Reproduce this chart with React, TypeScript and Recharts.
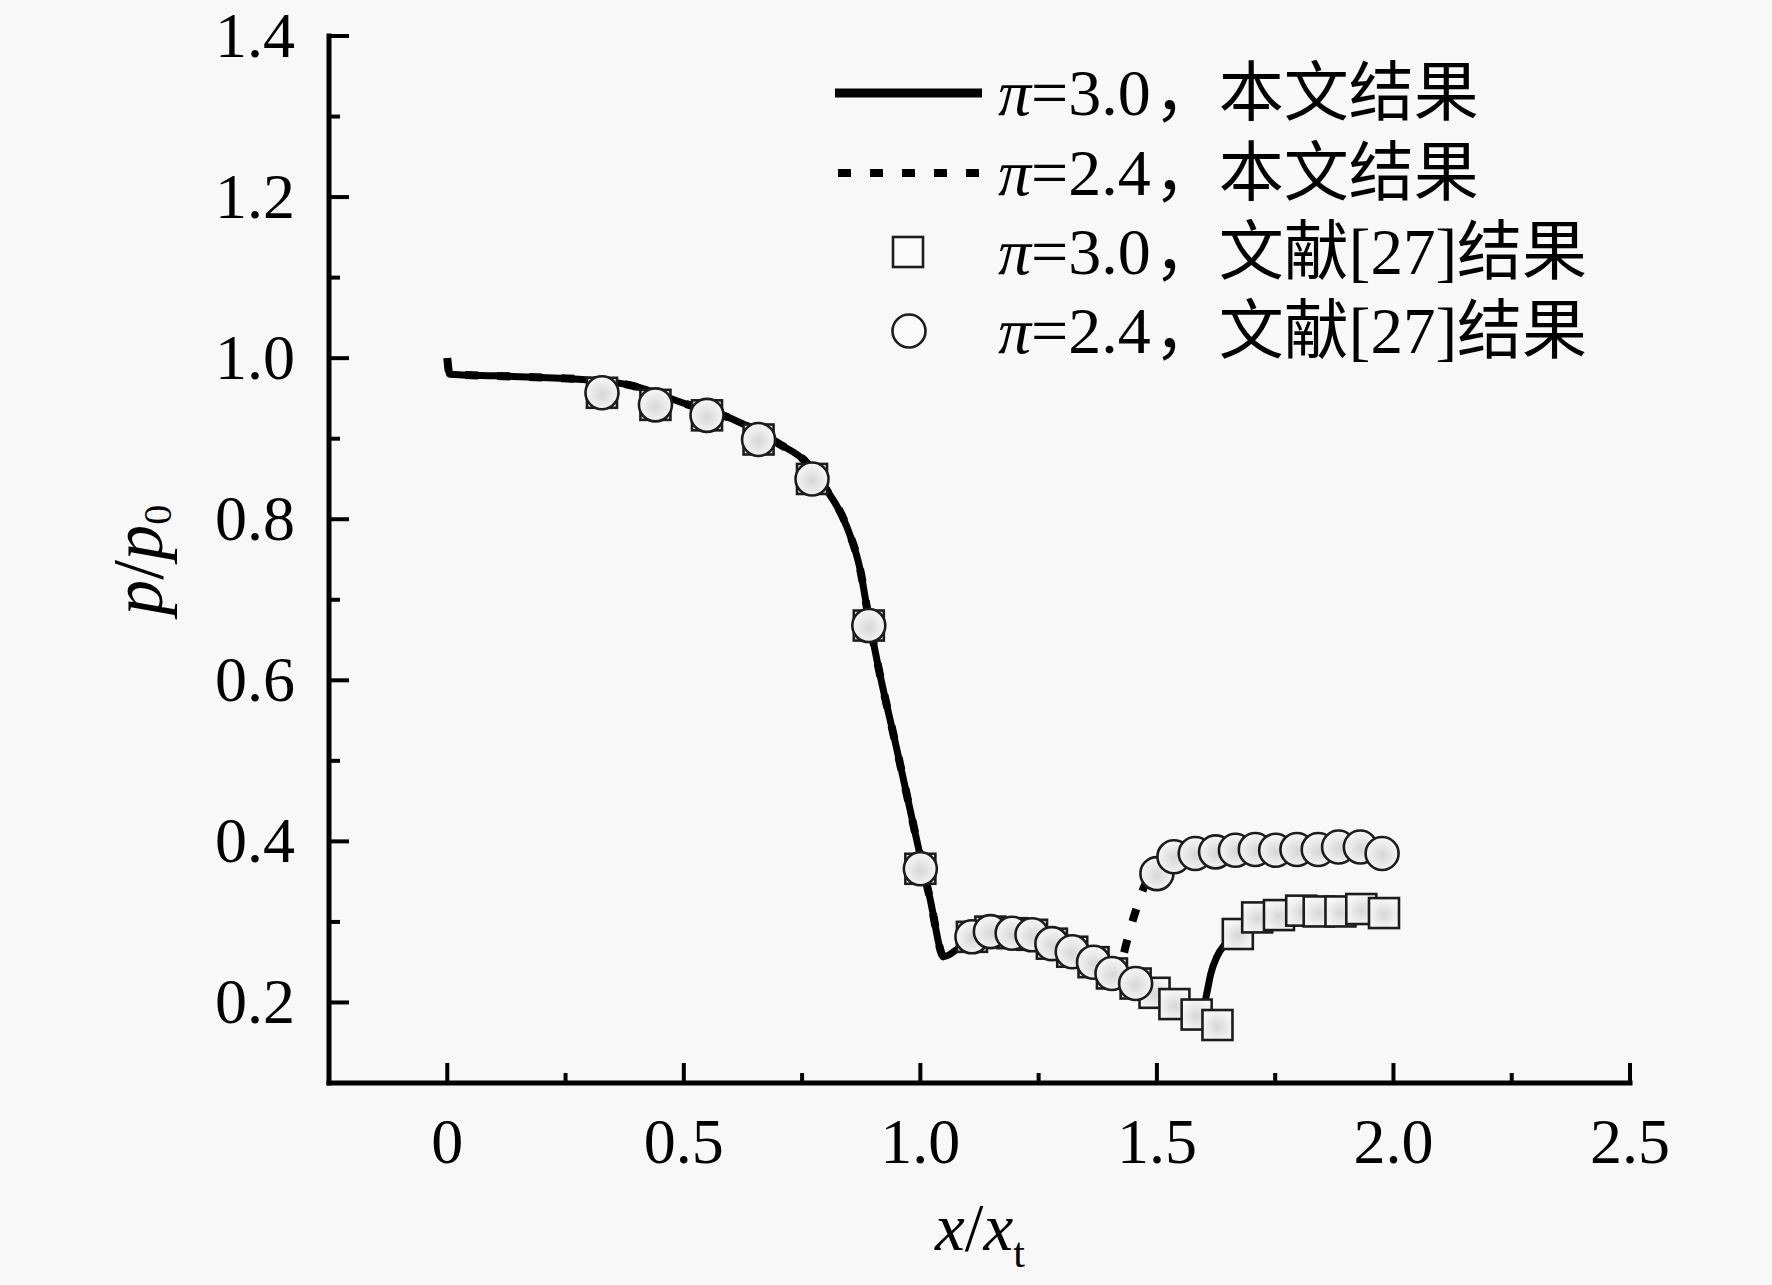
import React from 'react';
import { ComposedChart, Line, Scatter, XAxis, YAxis, Legend } from 'recharts';

// ---------- axis ticks ----------
const xTicks = [0, 0.25, 0.5, 0.75, 1.0, 1.25, 1.5, 1.75, 2.0, 2.25, 2.5];
const xTickLabels = ['0', '', '0.5', '', '1.0', '', '1.5', '', '2.0', '', '2.5'];
const yTicks = [0.2, 0.3, 0.4, 0.5, 0.6, 0.7, 0.8, 0.9, 1.0, 1.1, 1.2, 1.3, 1.4];
const yTickLabels = ['0.2', '', '0.4', '', '0.6', '', '0.8', '', '1.0', '', '1.2', '', '1.4'];

// ---------- model curve, pi = 3.0 (solid) ----------
const model30X = [0, 0.005, 0.1, 0.2, 0.3, 0.39, 0.5, 0.6, 0.7, 0.76, 0.8, 0.845, 0.873, 0.89, 0.91, 0.95, 0.993, 1.02, 1.05, 1.08, 1.11, 1.15, 1.19, 1.24, 1.28, 1.32, 1.37, 1.41, 1.455, 1.495, 1.54, 1.58, 1.597, 1.605, 1.614, 1.627, 1.645, 1.671, 1.712, 1.758, 1.805, 1.85, 1.9, 1.98];
const model30Y = [1.0, 0.98, 0.978, 0.976, 0.973, 0.966, 0.944, 0.925, 0.894, 0.87, 0.838, 0.79, 0.737, 0.68, 0.62, 0.515, 0.4, 0.33, 0.257, 0.267, 0.28, 0.287, 0.286, 0.283, 0.273, 0.262, 0.249, 0.235, 0.222, 0.211, 0.198, 0.187, 0.19, 0.21, 0.236, 0.257, 0.273, 0.286, 0.305, 0.309, 0.313, 0.313, 0.314, 0.312];

// ---------- model curve, pi = 2.4 (dotted) ----------
const model24X = [0, 0.005, 0.1, 0.2, 0.3, 0.39, 0.5, 0.6, 0.7, 0.76, 0.8, 0.845, 0.873, 0.89, 0.91, 0.95, 0.993, 1.02, 1.05, 1.08, 1.11, 1.15, 1.19, 1.24, 1.28, 1.32, 1.37, 1.41, 1.425, 1.437, 1.457, 1.48, 1.5, 1.536, 1.58, 1.624, 1.7, 1.8, 1.88, 1.93, 1.976];
const model24Y = [1.0, 0.98, 0.978, 0.976, 0.973, 0.966, 0.944, 0.925, 0.894, 0.87, 0.838, 0.79, 0.737, 0.68, 0.62, 0.515, 0.4, 0.33, 0.257, 0.267, 0.28, 0.287, 0.286, 0.283, 0.273, 0.262, 0.249, 0.235, 0.25, 0.277, 0.317, 0.352, 0.362, 0.381, 0.386, 0.388, 0.39, 0.39, 0.392, 0.392, 0.386];

// ---------- reference [27], pi = 3.0 (squares) ----------
const ref30X = [0.327, 0.44, 0.549, 0.658, 0.771, 0.891, 1.0, 1.109, 1.148, 1.194, 1.236, 1.278, 1.321, 1.366, 1.405, 1.455, 1.495, 1.537, 1.584, 1.628, 1.671, 1.712, 1.758, 1.805, 1.842, 1.888, 1.932, 1.98];
const ref30Y = [0.957, 0.942, 0.929, 0.899, 0.85, 0.668, 0.366, 0.2815, 0.288, 0.286, 0.284, 0.273, 0.263, 0.25, 0.236, 0.2235, 0.212, 0.198, 0.185, 0.172, 0.285, 0.3056, 0.3085, 0.314, 0.313, 0.313, 0.316, 0.311];

// ---------- reference [27], pi = 2.4 (circles) ----------
const ref24X = [0.327, 0.44, 0.549, 0.658, 0.771, 0.891, 1.0, 1.109, 1.148, 1.194, 1.236, 1.278, 1.321, 1.366, 1.405, 1.455, 1.5, 1.536, 1.581, 1.624, 1.666, 1.708, 1.751, 1.796, 1.841, 1.884, 1.93, 1.976];
const ref24Y = [0.957, 0.942, 0.929, 0.899, 0.85, 0.668, 0.366, 0.2815, 0.288, 0.286, 0.284, 0.273, 0.263, 0.25, 0.236, 0.2235, 0.36, 0.381, 0.385, 0.387, 0.389, 0.39, 0.389, 0.39, 0.39, 0.393, 0.393, 0.385];

// ---------- legend ----------
const legendPi = ['3.0', '2.4', '3.0', '2.4'];
const legendSuffix = ['本文结果', '本文结果', '文献[27]结果', '文献[27]结果'];

const zip = (xs: number[], ys: number[]) => xs.map((x, i) => ({ x, y: ys[i] }));
const model30 = zip(model30X, model30Y);
const model24 = zip(model24X, model24Y);
const ref30 = zip(ref30X, ref30Y);
const ref24 = zip(ref24X, ref24Y);

const SERIF = "'Liberation Serif', 'Times New Roman', serif";
const MIXED = "'Liberation Serif', 'Noto Sans CJK SC', serif";

const LeftTick = (props: any) => {
  const { x, y, payload } = props;
  const i = yTicks.indexOf(payload.value);
  const label = i >= 0 ? yTickLabels[i] : '';
  const len = label ? 20 : 11;
  return (
    <g>
      <line x1={x} y1={y} x2={x + len} y2={y} stroke="#000" strokeWidth={4} />
      {label ? (
        <text x={x - 34} y={y + 21} textAnchor="end" fontFamily={SERIF} fontSize={64} fill="#000">
          {label}
        </text>
      ) : null}
    </g>
  );
};

const RightTick = (props: any) => {
  const { x, y, payload } = props;
  const i = yTicks.indexOf(payload.value);
  const label = i >= 0 ? yTickLabels[i] : '';
  const len = label ? 20 : 11;
  return <line x1={x} y1={y} x2={x - len} y2={y} stroke="#000" strokeWidth={4} />;
};

const BottomTick = (props: any) => {
  const { x, y, payload } = props;
  const i = xTicks.indexOf(payload.value);
  const label = i >= 0 ? xTickLabels[i] : '';
  const len = label ? 20 : 10;
  return (
    <g>
      <line x1={x} y1={y} x2={x} y2={y - len} stroke="#000" strokeWidth={4} />
      {label ? (
        <text x={x} y={y + 80} textAnchor="middle" fontFamily={SERIF} fontSize={64} fill="#000">
          {label}
        </text>
      ) : null}
    </g>
  );
};

const GradDefs = () => (
  <defs>
    <radialGradient id="mkGrad" cx="0.5" cy="0.55" r="0.6">
      <stop offset="0" stopColor="#d6d6d6" />
      <stop offset="0.55" stopColor="#ebebeb" />
      <stop offset="1" stopColor="#fafafa" />
    </radialGradient>
  </defs>
);

const CircleShape = (props: any) => {
  const { cx, cy } = props;
  if (cx == null || cy == null) return null;
  return (
    <g>
      <GradDefs />
      <circle cx={cx} cy={cy} r={16.5} fill="url(#mkGrad)" stroke="#1c1c1c" strokeWidth={2.6} />
    </g>
  );
};

const SquareShape = (props: any) => {
  const { cx, cy } = props;
  if (cx == null || cy == null) return null;
  return (
    <g>
      <GradDefs />
      <rect x={cx - 15} y={cy - 15} width={30} height={30} fill="url(#mkGrad)" stroke="#1c1c1c" strokeWidth={2.6} />
    </g>
  );
};

const legendRowY = [93, 173, 252, 331];
const LegendBox = () => (
  <svg width={1772} height={400} style={{ display: 'block' }}>
    <line x1={835} y1={legendRowY[0]} x2={982} y2={legendRowY[0]} stroke="#000" strokeWidth={9} />
    <line x1={838} y1={legendRowY[1]} x2={985} y2={legendRowY[1]} stroke="#000" strokeWidth={8} strokeDasharray="13 19" />
    <rect x={893} y={legendRowY[2] - 15} width={30} height={30} fill="#fafafa" stroke="#1c1c1c" strokeWidth={2.6} />
    <circle cx={909} cy={legendRowY[3]} r={16.5} fill="#fafafa" stroke="#1c1c1c" strokeWidth={2.6} />
    {legendPi.map((p, i) => (
      <text key={i} x={998} y={legendRowY[i] + 22} fontFamily={MIXED} fontSize={66} fill="#000">
        <tspan fontStyle="italic" fontFamily={SERIF}>π</tspan>
        <tspan>{'=' + p}</tspan>
        <tspan fontSize={65} dx={3}>{'，' + legendSuffix[i]}</tspan>
      </text>
    ))}
  </svg>
);

const XTitle = () => (
  <text x={935} y={1250} fontFamily={SERIF} fontSize={67} fill="#000">
    <tspan fontStyle="italic">x</tspan>
    <tspan>/</tspan>
    <tspan fontStyle="italic">x</tspan>
    <tspan fontSize={42} dy={17}>t</tspan>
  </text>
);

const YTitle = () => (
  <text transform="translate(162,560) rotate(-90)" x={0} y={0} textAnchor="middle" fontFamily={SERIF} fontSize={71} fill="#000">
    <tspan fontStyle="italic">p</tspan>
    <tspan>/</tspan>
    <tspan fontStyle="italic">p</tspan>
    <tspan fontSize={40} dy={9}>0</tspan>
  </text>
);

const axisLineStyle = { stroke: '#000', strokeWidth: 5, strokeLinecap: 'square' as const };

export default function App() {
  return (
    <div style={{ position: 'absolute', left: 0, top: 0, width: 1772, height: 1285, background: '#f8f8f8' }}>
      <ComposedChart width={1772} height={1285} margin={{ top: 36, right: 142, left: 0, bottom: 0 }}>
        <XAxis
          xAxisId="b"
          type="number"
          dataKey="x"
          domain={[-0.25, 2.5]}
          ticks={xTicks}
          interval={0}
          height={202}
          tickSize={0}
          tickMargin={0}
          tickLine={false}
          axisLine={axisLineStyle}
          tick={<BottomTick />}
          allowDataOverflow
          label={XTitle}
        />
        <XAxis
          xAxisId="t"
          orientation="top"
          type="number"
          dataKey="x"
          domain={[-0.25, 2.5]}
          height={0}
          tick={false}
          tickLine={false}
          axisLine={axisLineStyle}
          allowDataOverflow
        />
        <YAxis
          yAxisId="l"
          type="number"
          dataKey="y"
          domain={[0.1, 1.4]}
          ticks={yTicks}
          interval={0}
          width={329}
          tickSize={0}
          tickMargin={0}
          tickLine={false}
          axisLine={axisLineStyle}
          tick={<LeftTick />}
          allowDataOverflow
          label={YTitle}
        />
        <YAxis
          yAxisId="r"
          orientation="right"
          type="number"
          dataKey="y"
          domain={[0.1, 1.4]}
          ticks={yTicks}
          interval={0}
          width={0}
          tickSize={0}
          tickMargin={0}
          tickLine={false}
          axisLine={axisLineStyle}
          tick={<RightTick />}
          allowDataOverflow
        />
        <Line
          xAxisId="b"
          yAxisId="l"
          data={model24}
          dataKey="y"
          type="monotone"
          stroke="#000"
          strokeWidth={8}
          strokeDasharray="13 19"
          dot={false}
          activeDot={false}
          isAnimationActive={false}
          name="π=2.4，本文结果"
        />
        <Line
          xAxisId="b"
          yAxisId="l"
          data={model30}
          dataKey="y"
          type="monotone"
          stroke="#000"
          strokeWidth={7}
          dot={false}
          activeDot={false}
          isAnimationActive={false}
          name="π=3.0，本文结果"
        />
        <Scatter
          xAxisId="b"
          yAxisId="l"
          data={ref30}
          dataKey="y"
          shape={<SquareShape />}
          isAnimationActive={false}
          name="π=3.0，文献[27]结果"
        />
        <Scatter
          xAxisId="b"
          yAxisId="l"
          data={ref24}
          dataKey="y"
          shape={<CircleShape />}
          isAnimationActive={false}
          name="π=2.4，文献[27]结果"
        />
        <Legend
          layout="horizontal"
          verticalAlign="middle"
          align="center"
          content={() => <LegendBox />}
          wrapperStyle={{ position: 'absolute', left: 0, top: 0, width: 1772, height: 400, pointerEvents: 'none' }}
        />
      </ComposedChart>
    </div>
  );
}
